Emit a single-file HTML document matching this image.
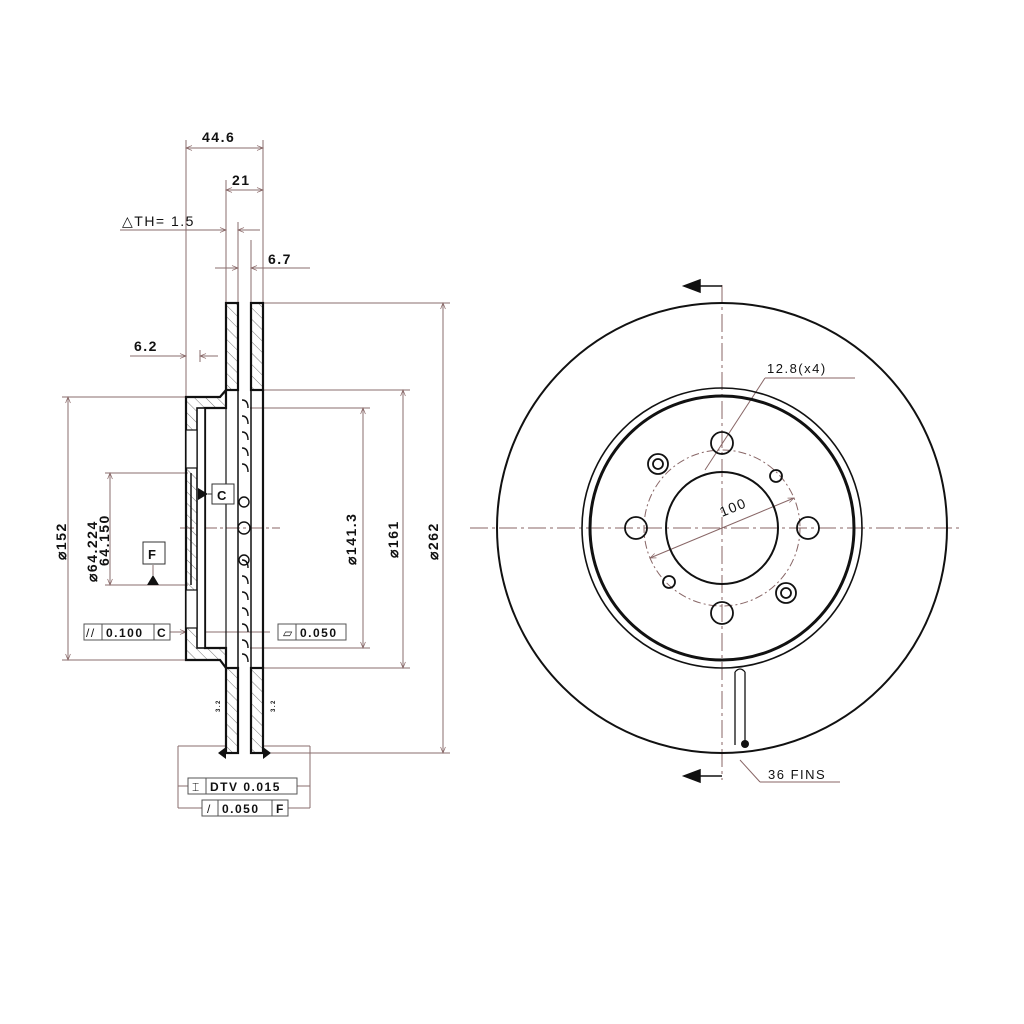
<!DOCTYPE html>
<html><head><style>html,body{margin:0;padding:0;background:#fff}svg{display:block}
text{font-family:"Liberation Sans",Arial,sans-serif;fill:#111;font-weight:bold;letter-spacing:1.5px}</style></head>
<body>
<svg width="1024" height="1024" viewBox="0 0 1024 1024" xmlns="http://www.w3.org/2000/svg">
<defs>
<pattern id="h" patternUnits="userSpaceOnUse" width="8" height="8" patternTransform="rotate(-45)">
<line x1="0" y1="0" x2="0" y2="8" stroke="#777" stroke-width="1"/></pattern>
<marker id="a" viewBox="0 0 10 10" refX="10" refY="5" markerWidth="8" markerHeight="6" orient="auto-start-reverse"><path d="M0,1 L10,5 L0,9" fill="none" stroke="#866" stroke-width="1.2"/></marker>
</defs>
<g stroke="#8a6e6e" stroke-width="1" fill="none">
<line x1="186" y1="140" x2="186" y2="397"/>
<line x1="263" y1="140" x2="263" y2="303"/>
<line x1="226" y1="180" x2="226" y2="303"/>
<line x1="238" y1="222" x2="238" y2="303"/>
<line x1="251" y1="240" x2="251" y2="303"/>
<line x1="186" y1="148" x2="263" y2="148" marker-start="url(#a)" marker-end="url(#a)"/>
<line x1="226" y1="190" x2="263" y2="190" marker-start="url(#a)" marker-end="url(#a)"/>
<line x1="120" y1="230" x2="226" y2="230" marker-end="url(#a)"/>
<line x1="260" y1="230" x2="238" y2="230" marker-end="url(#a)"/>
<line x1="215" y1="268" x2="238" y2="268" marker-end="url(#a)"/>
<line x1="310" y1="268" x2="251" y2="268" marker-end="url(#a)"/>
<line x1="130" y1="356" x2="186" y2="356" marker-end="url(#a)"/>
<line x1="218" y1="356" x2="200" y2="356" marker-end="url(#a)"/>
<line x1="200" y1="350" x2="200" y2="362"/>
<line x1="263" y1="303" x2="450" y2="303"/>
<line x1="263" y1="753" x2="450" y2="753"/>
<line x1="443" y1="303" x2="443" y2="753" marker-start="url(#a)" marker-end="url(#a)"/>
<line x1="263" y1="390" x2="410" y2="390"/>
<line x1="263" y1="668" x2="410" y2="668"/>
<line x1="403" y1="390" x2="403" y2="668" marker-start="url(#a)" marker-end="url(#a)"/>
<line x1="250" y1="408" x2="370" y2="408"/>
<line x1="250" y1="648" x2="370" y2="648"/>
<line x1="363" y1="408" x2="363" y2="648" marker-start="url(#a)" marker-end="url(#a)"/>
<line x1="62" y1="397" x2="186" y2="397"/>
<line x1="62" y1="660" x2="186" y2="660"/>
<line x1="68" y1="397" x2="68" y2="660" marker-start="url(#a)" marker-end="url(#a)"/>
<line x1="105" y1="473" x2="188" y2="473"/>
<line x1="105" y1="585" x2="188" y2="585"/>
<line x1="110" y1="473" x2="110" y2="585" marker-start="url(#a)" marker-end="url(#a)"/>
<line x1="170" y1="632" x2="186" y2="632" marker-end="url(#a)"/>
<line x1="270" y1="632" x2="197" y2="632" marker-end="url(#a)"/>
<line x1="178" y1="746" x2="226" y2="746"/>
<line x1="263" y1="746" x2="310" y2="746"/>
<line x1="178" y1="746" x2="178" y2="808"/>
<line x1="310" y1="746" x2="310" y2="808"/>
<line x1="178" y1="786" x2="188" y2="786"/>
<line x1="297" y1="786" x2="310" y2="786"/>
<line x1="178" y1="808" x2="202" y2="808"/>
<line x1="288" y1="808" x2="310" y2="808"/>
<line x1="153" y1="565" x2="153" y2="575"/>
</g>
<line x1="180" y1="528" x2="280" y2="528" stroke="#866" stroke-dasharray="14,3,3,3"/>
<g stroke="#111" stroke-width="2.2">
<rect x="226" y="303" width="12" height="87" fill="url(#h)"/>
<rect x="251" y="303" width="12" height="87" fill="url(#h)"/>
<rect x="226" y="668" width="12" height="85" fill="url(#h)"/>
<rect x="251" y="668" width="12" height="85" fill="url(#h)"/>
<path d="M186,397 H220 L226,390 V408 H205 V648 H226 V668 L220,660 H186 Z" fill="url(#h)"/>
<rect x="197" y="408" width="8" height="240" fill="#fff" stroke-width="1.6"/>
<rect x="186" y="430" width="11" height="38" fill="#fff" stroke-width="1.2"/>
<rect x="186" y="590" width="11" height="38" fill="#fff" stroke-width="1.2"/>
<line x1="191" y1="473" x2="191" y2="585" stroke-width="1.5"/>
<line x1="238" y1="303" x2="238" y2="753" stroke-width="1.5"/>
<line x1="251" y1="303" x2="251" y2="753" stroke-width="1.5"/>
<line x1="263" y1="390" x2="263" y2="668"/>
<line x1="226" y1="408" x2="226" y2="648" stroke-width="1.2"/>
</g>
<g stroke="#111" stroke-width="1.4" fill="none">
<path d="M242,400 q6,0 6,8 M242,416 q6,0 6,8 M242,432 q6,0 6,8 M242,448 q6,0 6,8 M242,464 q6,0 6,8 M242,560 q6,0 6,8 M242,576 q6,0 6,8 M242,592 q6,0 6,8 M242,608 q6,0 6,8 M242,624 q6,0 6,8 M242,640 q6,0 6,8 M242,654 q6,0 6,8"/>
<circle cx="244" cy="502" r="5"/><circle cx="244" cy="528" r="6"/><circle cx="244" cy="560" r="5"/>
</g>
<rect x="212" y="484" width="22" height="20" fill="#fff" stroke="#333"/>
<text x="217" y="500" font-size="13" style="letter-spacing:0">C</text>
<path d="M198,488 L208,494 L198,500 Z" fill="#111"/>
<line x1="208" y1="494" x2="212" y2="494" stroke="#333"/>
<rect x="143" y="542" width="22" height="22" fill="#fff" stroke="#333"/>
<text x="148" y="559" font-size="13" style="letter-spacing:0">F</text>
<path d="M147,585 L153,575 L159,585 Z" fill="#111"/>
<path d="M218,753 L226,747 L226,759 Z M271,753 L263,747 L263,759 Z" fill="#111"/>
<g stroke="#555" fill="#fff">
<rect x="84" y="624" width="86" height="16"/><line x1="102" y1="624" x2="102" y2="640"/><line x1="154" y1="624" x2="154" y2="640"/>
<rect x="278" y="624" width="68" height="16"/><line x1="296" y1="624" x2="296" y2="640"/>
<rect x="188" y="778" width="109" height="16"/><line x1="206" y1="778" x2="206" y2="794"/>
<rect x="202" y="800" width="86" height="16"/><line x1="218" y1="800" x2="218" y2="816"/><line x1="272" y1="800" x2="272" y2="816"/>
</g>
<g font-size="12">
<text x="86" y="637" style="font-weight:normal">//</text><text x="106" y="637">0.100</text><text x="157" y="637">C</text>
<text x="283" y="637" style="font-weight:normal">▱</text><text x="300" y="637">0.050</text>
<text x="192" y="791" style="font-weight:normal">⌶</text><text x="210" y="791">DTV 0.015</text>
<text x="207" y="813" style="font-weight:normal">/</text><text x="222" y="813">0.050</text><text x="276" y="813">F</text>
</g>
<g font-size="14">
<text x="202" y="142">44.6</text>
<text x="232" y="185">21</text>
<text x="122" y="226" style="font-weight:normal">△TH= 1.5</text>
<text x="268" y="264">6.7</text>
<text x="134" y="351">6.2</text>
<text transform="translate(66,560) rotate(-90)">⌀152</text>
<text transform="translate(97,582) rotate(-90)">⌀64.224</text>
<text transform="translate(109,566) rotate(-90)">64.150</text>
<text transform="translate(356,565) rotate(-90)">⌀141.3</text>
<text transform="translate(398,558) rotate(-90)">⌀161</text>
<text transform="translate(438,560) rotate(-90)">⌀262</text>
</g>
<text transform="translate(220,712) rotate(-90)" font-size="6">3.2</text>
<text transform="translate(275,712) rotate(-90)" font-size="6">3.2</text>
<g stroke="#866" stroke-width="1" fill="none">
<line x1="470" y1="528" x2="960" y2="528" stroke-dasharray="18,4,3,4"/>
<line x1="722" y1="285" x2="722" y2="780" stroke-dasharray="18,4,3,4"/>
<circle cx="722" cy="528" r="78" stroke-dasharray="8,3,2,3"/>
<line x1="650" y1="558" x2="794" y2="498" marker-start="url(#a)" marker-end="url(#a)"/>
<line x1="705" y1="470" x2="765" y2="378"/>
<line x1="765" y1="378" x2="855" y2="378"/>
<line x1="740" y1="760" x2="760" y2="782"/><line x1="760" y1="782" x2="840" y2="782"/>
</g>
<g stroke="#111" fill="none">
<circle cx="722" cy="528" r="225" stroke-width="2"/>
<circle cx="722" cy="528" r="140" stroke-width="1.6"/>
<circle cx="722" cy="528" r="132" stroke-width="3"/>
<circle cx="722" cy="528" r="56" stroke-width="2"/>
<g stroke-width="1.8">
<circle cx="722" cy="443" r="11"/><circle cx="722" cy="613" r="11"/>
<circle cx="636" cy="528" r="11"/><circle cx="808" cy="528" r="11"/>
<circle cx="658" cy="464" r="10"/><circle cx="658" cy="464" r="5"/>
<circle cx="786" cy="593" r="10"/><circle cx="786" cy="593" r="5"/>
<circle cx="776" cy="476" r="6"/><circle cx="669" cy="582" r="6"/>
</g>
<path d="M735,672 L735,745 M745,672 L745,745 M735,672 q5,-6 10,0" stroke-width="1.3"/>
</g>
<circle cx="745" cy="744" r="4" fill="#111"/>
<g stroke="#111" stroke-width="1.5">
<line x1="700" y1="286" x2="722" y2="286"/><path d="M684,286 L700,280 L700,292 Z" fill="#111"/>
<line x1="700" y1="776" x2="722" y2="776"/><path d="M684,776 L700,770 L700,782 Z" fill="#111"/>
</g>
<text x="767" y="373" font-size="13" style="font-weight:normal">12.8(x4)</text>
<text transform="translate(722,517) rotate(-22)" font-size="14" style="font-weight:normal">100</text>
<text x="768" y="779" font-size="13" style="font-weight:normal">36 FINS</text>
</svg>
</body></html>
